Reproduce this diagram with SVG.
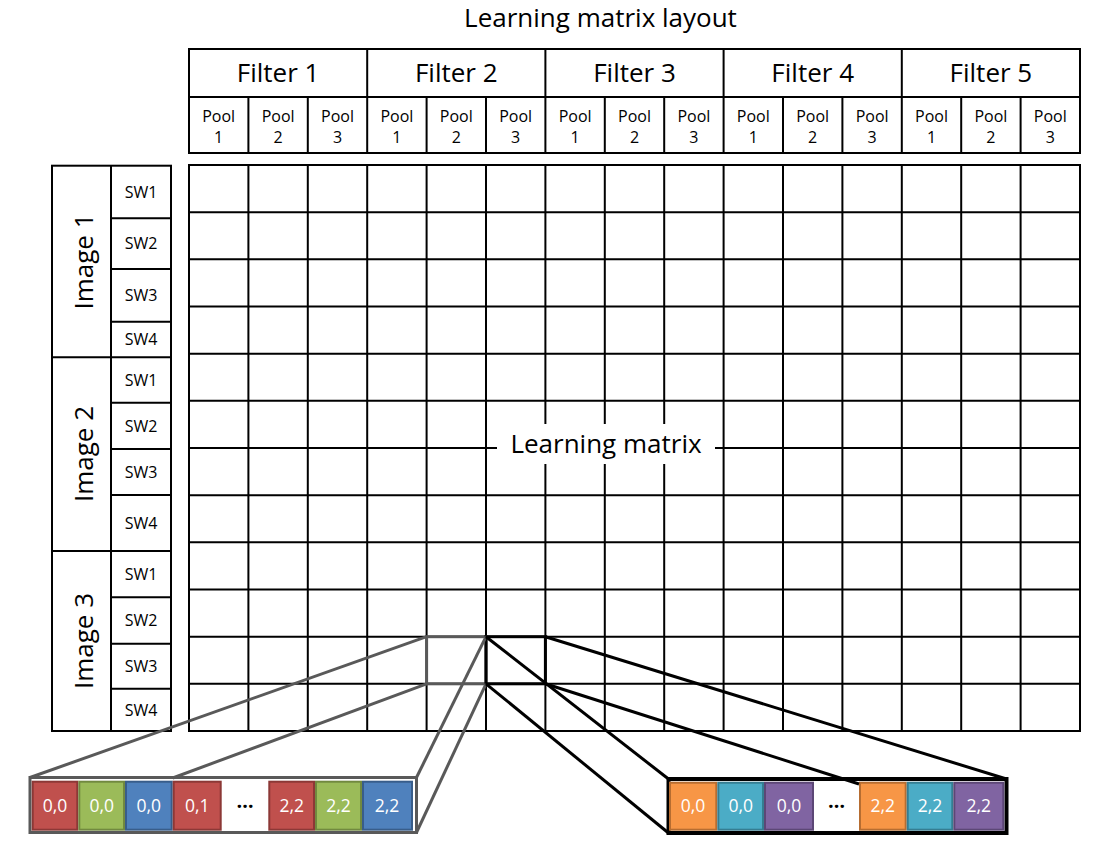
<svg xmlns="http://www.w3.org/2000/svg" width="1115" height="848" viewBox="0 0 1115 848">
<style>
  text { font-family: "Open Sans", "Liberation Sans", sans-serif; fill: #000; }
  .big { font-size: 26px; text-anchor: middle; }
  .sm { font-size: 16px; text-anchor: middle; }
  .num { font-size: 17.5px; text-anchor: middle; fill: #fff; }
  .dots { font-size: 20px; text-anchor: middle; fill: #000; font-weight: bold; }
  .grid { fill: none; stroke: #000; stroke-width: 2; }
  .gray { stroke: #595959; stroke-width: 3; fill: none; }
  .blk { stroke: #000; stroke-width: 3; fill: none; }
  .red { fill: #C0504D; stroke: #8C3836; stroke-width: 2; }
  .grn { fill: #9BBB59; stroke: #71893F; stroke-width: 2; }
  .blu { fill: #4F81BD; stroke: #385D8A; stroke-width: 2; }
  .org { fill: #F79646; stroke: #B66D31; stroke-width: 2; }
  .tea { fill: #4BACC6; stroke: #357D91; stroke-width: 2; }
  .pur { fill: #8064A2; stroke: #5C4776; stroke-width: 2; }
  .wht { fill: #fff; stroke: none; }
</style>
<rect width="1115" height="848" fill="#fff"/>

<g id="title">
  <text class="big" x="600.5" y="27">Learning matrix layout</text>
</g>

<g id="header">
  <rect class="grid" x="189" y="49" width="891" height="104"/>
  <line class="grid" x1="189" y1="97" x2="1080" y2="97"/>
  <path class="grid" d="M367.2 49V153M545.4 49V153M723.6 49V153M901.8 49V153"/>
  <path class="grid" d="M248.4 97V153M307.8 97V153M426.6 97V153M486 97V153M604.8 97V153M664.2 97V153M783 97V153M842.4 97V153M961.2 97V153M1020.6 97V153"/>
  <text class="big" x="278.1" y="82.3">Filter 1</text>
  <text class="big" x="456.3" y="82.3">Filter 2</text>
  <text class="big" x="634.5" y="82.3">Filter 3</text>
  <text class="big" x="812.7" y="82.3">Filter 4</text>
  <text class="big" x="990.9" y="82.3">Filter 5</text>
  <g class="sm">
    <text x="218.7" y="121.5">Pool</text><text x="218.7" y="142.5">1</text>
    <text x="278.1" y="121.5">Pool</text><text x="278.1" y="142.5">2</text>
    <text x="337.5" y="121.5">Pool</text><text x="337.5" y="142.5">3</text>
    <text x="396.9" y="121.5">Pool</text><text x="396.9" y="142.5">1</text>
    <text x="456.3" y="121.5">Pool</text><text x="456.3" y="142.5">2</text>
    <text x="515.7" y="121.5">Pool</text><text x="515.7" y="142.5">3</text>
    <text x="575.1" y="121.5">Pool</text><text x="575.1" y="142.5">1</text>
    <text x="634.5" y="121.5">Pool</text><text x="634.5" y="142.5">2</text>
    <text x="693.9" y="121.5">Pool</text><text x="693.9" y="142.5">3</text>
    <text x="753.3" y="121.5">Pool</text><text x="753.3" y="142.5">1</text>
    <text x="812.7" y="121.5">Pool</text><text x="812.7" y="142.5">2</text>
    <text x="872.1" y="121.5">Pool</text><text x="872.1" y="142.5">3</text>
    <text x="931.5" y="121.5">Pool</text><text x="931.5" y="142.5">1</text>
    <text x="990.9" y="121.5">Pool</text><text x="990.9" y="142.5">2</text>
    <text x="1050.3" y="121.5">Pool</text><text x="1050.3" y="142.5">3</text>
  </g>
</g>

<g id="row-labels">
  <rect class="grid" x="52" y="165.7" width="119" height="565.3"/>
  <line class="grid" x1="111" y1="165.7" x2="111" y2="731"/>
  <path class="grid" d="M52 357.3H171M52 551H171"/>
  <path class="grid" d="M111 218.3H171M111 269H171M111 321.7H171M111 402.7H171M111 449H171M111 495H171M111 597.3H171M111 643.7H171M111 688.7H171"/>
  <text class="big" transform="translate(92.5,261.5) rotate(-90)">Image 1</text>
  <text class="big" transform="translate(92.5,454) rotate(-90)">Image 2</text>
  <text class="big" transform="translate(92.5,641) rotate(-90)">Image 3</text>
  <g class="sm">
    <text x="141" y="197.7">SW1</text>
    <text x="141" y="249.4">SW2</text>
    <text x="141" y="301">SW3</text>
    <text x="141" y="345.2">SW4</text>
    <text x="141" y="385.7">SW1</text>
    <text x="141" y="431.5">SW2</text>
    <text x="141" y="477.7">SW3</text>
    <text x="141" y="528.7">SW4</text>
    <text x="141" y="579.9">SW1</text>
    <text x="141" y="626.2">SW2</text>
    <text x="141" y="671.9">SW3</text>
    <text x="141" y="715.5">SW4</text>
  </g>
</g>

<g id="learning-matrix">
  <rect class="grid" x="189" y="165" width="891" height="566"/>
  <path class="grid" d="M248.4 165V731M307.8 165V731M367.2 165V731M426.6 165V731M486 165V731M545.4 165V731M604.8 165V731M664.2 165V731M723.6 165V731M783 165V731M842.4 165V731M901.8 165V731M961.2 165V731M1020.6 165V731"/>
  <path class="grid" d="M189 212.2H1080M189 259.3H1080M189 306.5H1080M189 353.7H1080M189 400.8H1080M189 448H1080M189 495.2H1080M189 542.3H1080M189 589.5H1080M189 636.7H1080M189 683.8H1080"/>
  <rect class="wht" x="497" y="424" width="218" height="40"/>
  <text class="big" x="606" y="452.5">Learning matrix</text>
  <rect class="gray" x="426.6" y="636.7" width="59.4" height="47.1"/>
  <rect class="blk" x="486" y="636.7" width="59.4" height="47.1"/>
</g>

<g id="strip-left">
  <rect class="gray" x="30" y="777.5" width="386.5" height="55" fill="#fff"/>
  <rect class="red" x="32.7" y="781.7" width="44.6" height="48"/>
  <rect class="grn" x="79.3" y="781.7" width="44.7" height="48"/>
  <rect class="blu" x="126" y="781.7" width="45.7" height="48"/>
  <rect class="red" x="173.7" y="781.7" width="47" height="48"/>
  <rect class="red" x="269.3" y="781.7" width="44.7" height="48"/>
  <rect class="grn" x="316" y="781.7" width="45" height="48"/>
  <rect class="blu" x="363" y="781.7" width="49" height="48"/>
  <text class="num" x="55" y="811.5">0,0</text>
  <text class="num" x="101.7" y="811.5">0,0</text>
  <text class="num" x="148.8" y="811.5">0,0</text>
  <text class="num" x="197.2" y="811.5">0,1</text>
  <text class="dots" x="245" y="808">…</text>
  <text class="num" x="291.7" y="811.5">2,2</text>
  <text class="num" x="338.5" y="811.5">2,2</text>
  <text class="num" x="387" y="811.5">2,2</text>
</g>

<g id="strip-right">
  <rect x="668.5" y="779" width="338" height="54" fill="#fff" stroke="#000" stroke-width="4"/>
  <rect class="org" x="670" y="782.7" width="46.3" height="47"/>
  <rect class="tea" x="718.3" y="782.7" width="44.7" height="47"/>
  <rect class="pur" x="765" y="782.7" width="48" height="47"/>
  <rect class="org" x="860" y="782.7" width="45.7" height="47"/>
  <rect class="tea" x="907.7" y="782.7" width="44.6" height="47"/>
  <rect class="pur" x="954.3" y="782.7" width="49" height="47"/>
  <text class="num" x="693" y="811.5">0,0</text>
  <text class="num" x="740.7" y="811.5">0,0</text>
  <text class="num" x="789" y="811.5">0,0</text>
  <text class="dots" x="836.5" y="808">…</text>
  <text class="num" x="882.8" y="811.5">2,2</text>
  <text class="num" x="930" y="811.5">2,2</text>
  <text class="num" x="978.7" y="811.5">2,2</text>
</g>

<g id="connectors">
  <line class="gray" x1="426.6" y1="636.7" x2="30" y2="777.5"/>
  <line class="gray" x1="426.6" y1="683.8" x2="172.7" y2="778"/>
  <line class="gray" x1="486" y1="636.7" x2="416.5" y2="777.5"/>
  <line class="gray" x1="486" y1="683.8" x2="416.5" y2="832.5"/>
  <line class="blk" x1="486" y1="636.7" x2="668.5" y2="779"/>
  <line class="blk" x1="486" y1="683.8" x2="668.5" y2="833"/>
  <line class="blk" x1="545.4" y1="636.7" x2="1006.5" y2="779"/>
  <line class="blk" x1="545.4" y1="683.8" x2="859" y2="784"/>
</g>
</svg>
